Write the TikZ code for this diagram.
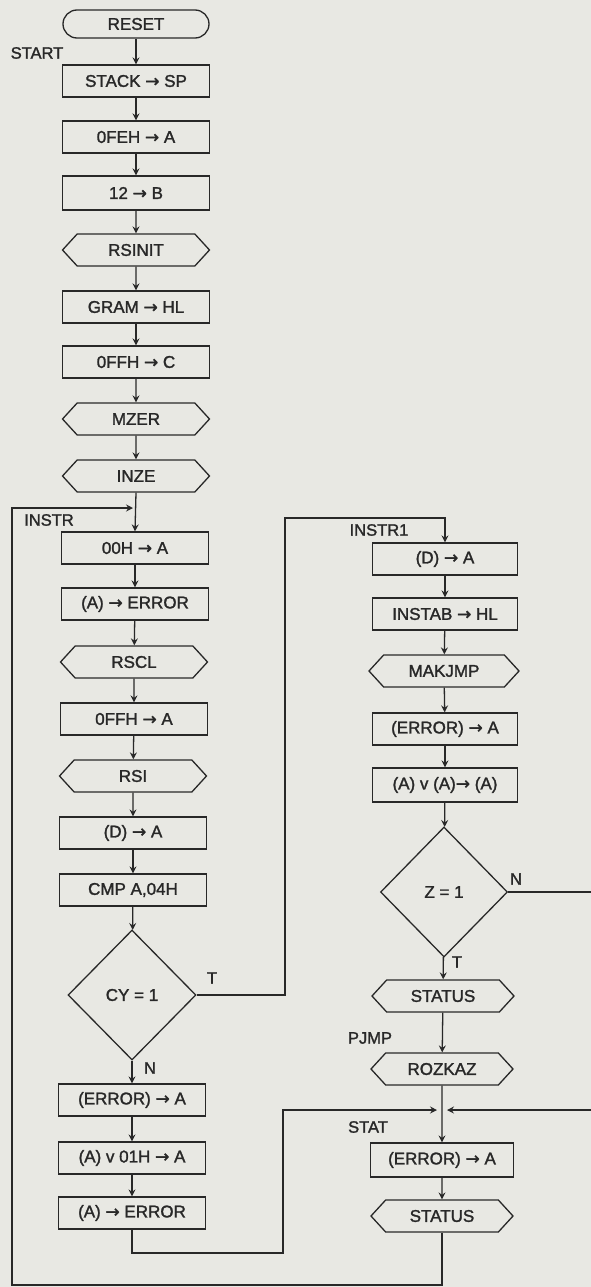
\documentclass[tikz,border=0pt]{standalone}
\usepackage{fontspec}
\setmainfont[FakeBold=1.6]{Liberation Sans}
\newfontfamily\arfont[FakeBold=1.6]{DejaVu Sans}
\newcommand{\tto}{{\arfont →}}
\usetikzlibrary{shapes.geometric,shapes.symbols,arrows.meta}
\definecolor{bgc}{RGB}{232,232,227}
\definecolor{ink}{RGB}{40,40,40}
\tikzset{
  base/.style={draw=ink, line width=1.3pt, inner sep=0pt, font=\fontsize{17}{19}\selectfont, text=ink},
  proc/.style={base, rectangle, minimum width=147pt, minimum height=32pt},
  sub/.style={base, signal, signal to=west and east, signal pointer angle=95, minimum width=147pt, minimum height=32pt},
  term/.style={base, rectangle, rounded corners=14pt, minimum width=146pt, minimum height=28pt},
  dec/.style={base, diamond, minimum width=128pt, minimum height=130pt},
  lbl/.style={font=\fontsize{16.5}{18}\selectfont, text=ink, inner sep=0pt},
  conn/.style={draw=ink, line width=1.3pt},
  arr/.style={conn, -{Stealth[length=7pt,width=7pt,inset=2.5pt]}},
}
\begin{document}
\begin{tikzpicture}[x=1pt,y=-1pt]
\fill[bgc] (0,0) rectangle (591,1287);
\useasboundingbox (0,0) rectangle (591,1287);
% left column
\node[term] (reset) at (136,24) {RESET};
\node[lbl] (start) at (37,53) {START};
\node[proc] (stack) at (136,81) {STACK \tto{} SP};
\node[proc] (fehA) at (136,137) {0FEH \tto{} A};
\node[proc, minimum height=34pt] (twB) at (136,193) {12 \tto{} B};
\node[sub] (rsinit) at (136,250) {RSINIT};
\node[proc] (gram) at (136,307) {GRAM \tto{} HL};
\node[proc] (ffhC) at (136,362) {0FFH \tto{} C};
\node[sub] (mzer) at (136,419) {MZER};
\node[sub] (inze) at (136,476) {INZE};
\node[lbl] (instr) at (49,520) {INSTR};
\node[proc] (zeroA) at (135,548) {00H \tto{} A};
\node[proc] (aErr) at (135,604) {(A) \tto{} ERROR};
\node[sub] (rscl) at (134,662) {RSCL};
\node[proc] (ffhA) at (134,719) {0FFH \tto{} A};
\node[sub] (rsi) at (133,776) {RSI};
\node[proc] (dA) at (133,833) {(D) \tto{} A};
\node[proc] (cmp) at (133,890) {CMP A,04H};
\node[dec] (cy) at (132,995) {CY = 1};
\node[lbl] (cyT) at (212,978) {T};
\node[lbl] (cyN) at (150,1068) {N};
\node[proc] (errA) at (132,1100) {(ERROR) \tto{} A};
\node[proc] (aor) at (132,1158) {(A) v 01H \tto{} A};
\node[proc] (aErr2) at (132,1213) {(A) \tto{} ERROR};
% right column
\node[lbl] (instr1) at (379,530) {INSTR1};
\node[proc, minimum width=145pt] (dA2) at (445,559) {(D) \tto{} A};
\node[proc, minimum width=145pt] (instab) at (445,614) {INSTAB \tto{} HL};
\node[sub, minimum width=150pt] (makjmp) at (444,671) {MAKJMP};
\node[proc, minimum width=145pt] (errA2) at (445,729) {(ERROR) \tto{} A};
\node[proc, minimum width=145pt, minimum height=34pt] (aorA) at (445,785) {(A) v (A)\tto{} (A)};
\node[dec, minimum width=127pt] (z) at (444,892) {Z = 1};
\node[lbl] (zN) at (516,879) {N};
\node[lbl] (zT) at (457,962) {T};
\node[sub, minimum width=142pt] (status1) at (443,996) {STATUS};
\node[lbl] (pjmp) at (370,1038) {PJMP};
\node[sub, minimum width=142pt] (rozkaz) at (442,1069) {ROZKAZ};
\node[lbl] (stat) at (368,1127) {STAT};
\node[proc, minimum width=143pt, minimum height=34pt] (errA3) at (442,1160) {(ERROR) \tto{} A};
\node[sub, minimum width=142pt] (status2) at (442,1216) {STATUS};
% coordinates
\coordinate (jI) at (136,508);
\coordinate (lpTL) at (12,508);
\coordinate (lpBL) at (12,1285);
\coordinate (lpBR) at (442,1285);
\coordinate (i1a) at (285,995);
\coordinate (i1b) at (285,518);
\coordinate (i1c) at (445,518);
\coordinate (s1) at (132,1253);
\coordinate (s2) at (283,1253);
\coordinate (s3) at (283,1110);
\coordinate (jS) at (442,1110);
\coordinate (r1) at (598,892);
\coordinate (r2) at (598,1110);
% connectors left
\draw[arr] (reset) -- (stack);
\draw[arr] (stack) -- (fehA);
\draw[arr] (fehA) -- (twB);
\draw[arr] (twB) -- (rsinit);
\draw[arr] (rsinit) -- (gram);
\draw[arr] (gram) -- (ffhC);
\draw[arr] (ffhC) -- (mzer);
\draw[arr] (mzer) -- (inze);
\draw[arr] (inze.south) -- (zeroA.north);
\draw[arr] (zeroA) -- (aErr);
\draw[arr] (aErr) -- (rscl);
\draw[arr] (rscl) -- (ffhA);
\draw[arr] (ffhA) -- (rsi);
\draw[arr] (rsi) -- (dA);
\draw[arr] (dA) -- (cmp);
\draw[arr] (cmp) -- (cy);
\draw[arr] (cy) -- (errA);
\draw[arr] (errA) -- (aor);
\draw[arr] (aor) -- (aErr2);
% loop to INSTR
\draw[arr, shorten >=3pt] (status2.south) -- (lpBR) -- (lpBL) -- (lpTL) -- (jI);
% loop to INSTR1
\draw[arr] (cy.east) -- (i1a) -- (i1b) -- (i1c) -- (dA2);
% right column
\draw[arr] (dA2) -- (instab);
\draw[arr] (instab) -- (makjmp);
\draw[arr] (makjmp) -- (errA2);
\draw[arr] (errA2) -- (aorA);
\draw[arr] (aorA) -- (z);
\draw[arr] (z) -- (status1);
\draw[arr] (status1) -- (rozkaz);
\draw[arr] (rozkaz) -- (errA3);
\draw[arr] (errA3) -- (status2);
% STAT junction
\draw[arr, shorten >=5pt] (aErr2.south) -- (s1) -- (s2) -- (s3) -- (jS);
\draw[arr, shorten >=5pt] (z.east) -- (r1) -- (r2) -- (jS);
\end{tikzpicture}
\end{document}
